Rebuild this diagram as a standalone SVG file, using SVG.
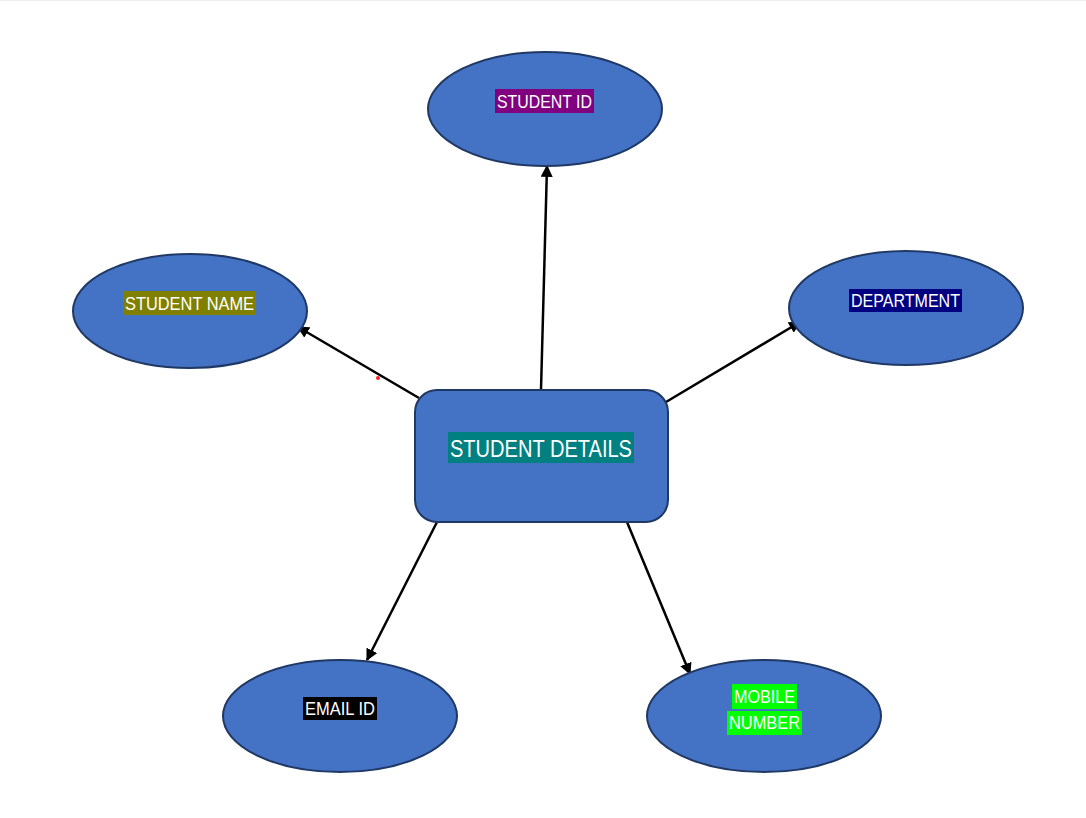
<svg xmlns="http://www.w3.org/2000/svg" width="1086" height="818" viewBox="0 0 1086 818">
<defs>
<style>
.shape{fill:#4472C4;stroke:#1F3864;stroke-width:2}
.lbl{font-family:"Liberation Sans",Arial,sans-serif;font-size:17.5px;fill:#ffffff;text-anchor:middle}
.conn{stroke:#000;stroke-width:2.5;fill:none;marker-end:url(#arr)}
</style>
<marker id="arr" viewBox="0 0 10 10" refX="9" refY="5" markerWidth="4.8" markerHeight="4.8" orient="auto" markerUnits="strokeWidth">
<path d="M0,0 L10,5 L0,10 z" fill="#000"/>
</marker>
</defs>
<rect x="0" y="0" width="1086" height="818" fill="#ffffff"/>
<rect x="0" y="0" width="1086" height="1" fill="#eeeeee"/>
<g id="connectors">
<line class="conn" x1="541" y1="390" x2="547" y2="166"/>
<line class="conn" x1="419" y1="398" x2="298" y2="327"/>
<line class="conn" x1="666" y1="402" x2="800" y2="322"/>
<line class="conn" x1="437" y1="522" x2="367" y2="660"/>
<line class="conn" x1="627" y1="522" x2="690" y2="674"/>
</g>
<circle cx="378" cy="378" r="2" fill="#ff2020"/>
<g id="student-details">
<rect class="shape" x="415" y="390" width="253" height="132" rx="22"/>
<rect x="448" y="432" width="186" height="31" fill="#008080"/>
<text class="lbl" x="541" y="457" style="font-size:23px" textLength="182" lengthAdjust="spacingAndGlyphs">STUDENT DETAILS</text>
</g>
<g id="student-id">
<ellipse class="shape" cx="545" cy="109" rx="117" ry="57"/>
<rect x="495" y="89" width="99" height="24" fill="#800080"/>
<text class="lbl" x="544.5" y="108" textLength="95" lengthAdjust="spacingAndGlyphs">STUDENT ID</text>
</g>
<g id="student-name">
<ellipse class="shape" cx="190" cy="311" rx="117" ry="57"/>
<rect x="123" y="291" width="133" height="24" fill="#808000"/>
<text class="lbl" x="189.5" y="310" textLength="129" lengthAdjust="spacingAndGlyphs">STUDENT NAME</text>
</g>
<g id="department">
<ellipse class="shape" cx="906" cy="308" rx="117" ry="57"/>
<rect x="849" y="289" width="113" height="23" fill="#000080"/>
<text class="lbl" x="905.5" y="307" textLength="109" lengthAdjust="spacingAndGlyphs">DEPARTMENT</text>
</g>
<g id="email-id">
<ellipse class="shape" cx="340" cy="716" rx="117" ry="56"/>
<rect x="303" y="697" width="74" height="23" fill="#000000"/>
<text class="lbl" x="340" y="715" textLength="70" lengthAdjust="spacingAndGlyphs">EMAIL ID</text>
</g>
<g id="mobile-number">
<ellipse class="shape" cx="764" cy="716" rx="117" ry="56"/>
<rect x="732" y="684" width="65" height="25" fill="#00FF00"/>
<rect x="727" y="711" width="75" height="24" fill="#00FF00"/>
<text class="lbl" x="764.5" y="703" textLength="61" lengthAdjust="spacingAndGlyphs">MOBILE</text>
<text class="lbl" x="764.5" y="729" textLength="71" lengthAdjust="spacingAndGlyphs">NUMBER</text>
</g>
</svg>
